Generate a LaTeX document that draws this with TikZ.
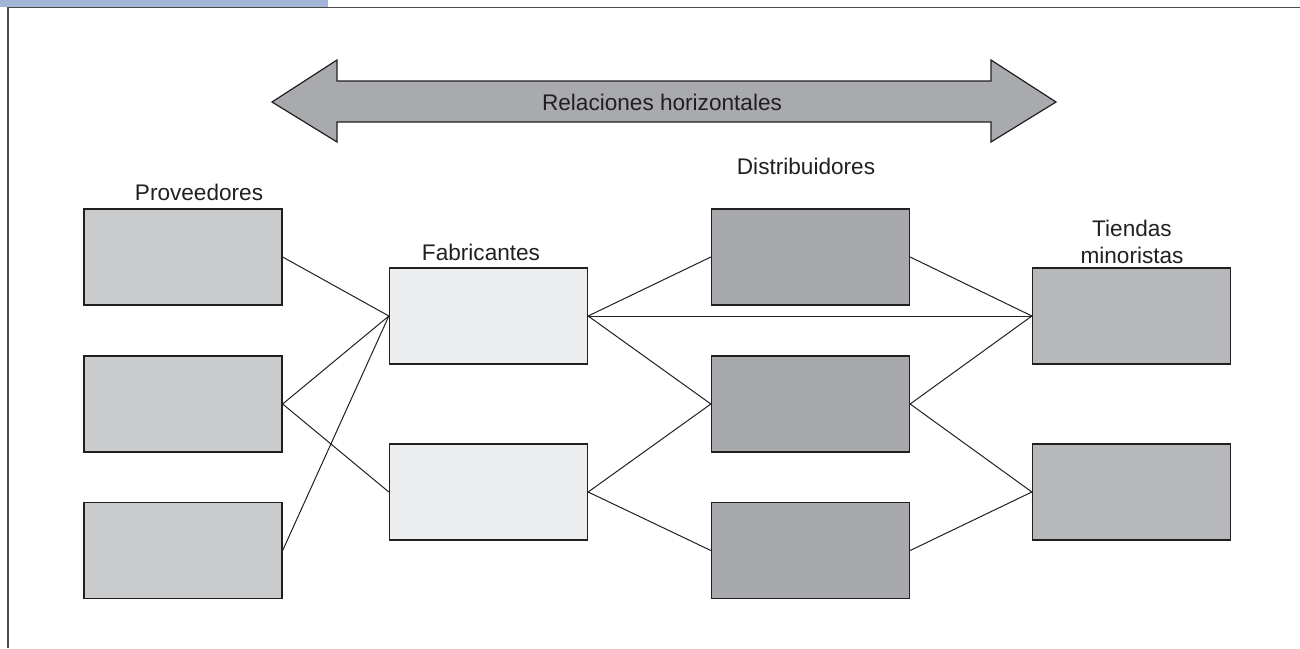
\documentclass[tikz,border=0pt]{standalone}
\usepackage{fontspec}
\setmainfont{Liberation Sans}
\usepackage{xcolor}
\usetikzlibrary{positioning}

\definecolor{provgray}{HTML}{CACBCD}
\definecolor{fabgray}{HTML}{ECEDEF}
\definecolor{distgray}{HTML}{A7A9AC}
\definecolor{tiendagray}{HTML}{B7B8BB}
\definecolor{flechagray}{HTML}{A9AAAD}
\definecolor{barblue}{HTML}{A3B5D6}
\definecolor{marco}{HTML}{4A4A4A}
\definecolor{tinta}{HTML}{231F20}

\begin{document}
\begin{tikzpicture}[x=0.5pt, y=-0.5pt,
		caja/.style={draw=tinta, line width=0.65pt, minimum width=99pt, minimum height=48pt, inner sep=0pt},
		prov/.style={caja, fill=provgray},
		fab/.style={caja, fill=fabgray},
		dist/.style={caja, fill=distgray},
		tienda/.style={caja, fill=tiendagray},
		rotulo/.style={text=tinta, font=\fontsize{11.3}{13.5}\selectfont, align=center, inner sep=0pt},
		enlace/.style={draw=tinta, line width=0.5pt}]
	\useasboundingbox (0,0) rectangle (1300,648);
	% marco de la pagina
	\fill[barblue] (0,0) rectangle (328,7);
	\draw[marco, line width=0.8pt] (8,648) -- (8,7.5) -- (1300,7.5);

	% flecha doble
	\draw[fill=flechagray, draw=tinta, line width=0.6pt, line join=miter]
		(272,102) -- (337,60) -- (337,81) -- (991,81) -- (991,60) -- (1056,102)
		-- (991,142) -- (991,122) -- (337,122) -- (337,142) -- cycle;
	\node[rotulo] (rel) at (662,102) {Relaciones horizontales};

	% cajas
	\node[prov] (p1) at (183,257) {};
	\node[prov] (p2) at (183,404) {};
	\node[prov] (p3) at (183,550.5) {};
	\node[fab] (f1) at (488.5,316) {};
	\node[fab] (f2) at (488.5,492) {};
	\node[dist] (d1) at (810.5,257) {};
	\node[dist] (d2) at (810.5,404) {};
	\node[dist] (d3) at (810.5,550.5) {};
	\node[tienda] (t1) at (1131.5,316) {};
	\node[tienda] (t2) at (1131.5,492) {};

	% rotulos
	\node[rotulo] (lprov) at (199,192) {Proveedores};
	\node[rotulo] (lfab) at (481,252) {Fabricantes};
	\node[rotulo] (ldist) at (806,166) {Distribuidores};
	\node[rotulo] (ltienda) at (1132,242) {Tiendas\\minoristas};

	% enlaces
	\draw[enlace] (p1.east) -- (f1.west);
	\draw[enlace] (p2.east) -- (f1.west);
	\draw[enlace] (p2.east) -- (f2.west);
	\draw[enlace] (p3.east) -- (f1.west);
	\draw[enlace] (f1.east) -- (d1.west);
	\draw[enlace] (f1.east) -- (t1.west);
	\draw[enlace] (f1.east) -- (d2.west);
	\draw[enlace] (f2.east) -- (d2.west);
	\draw[enlace] (f2.east) -- (d3.west);
	\draw[enlace] (d1.east) -- (t1.west);
	\draw[enlace] (d2.east) -- (t1.west);
	\draw[enlace] (d2.east) -- (t2.west);
	\draw[enlace] (d3.east) -- (t2.west);
\end{tikzpicture}
\end{document}
